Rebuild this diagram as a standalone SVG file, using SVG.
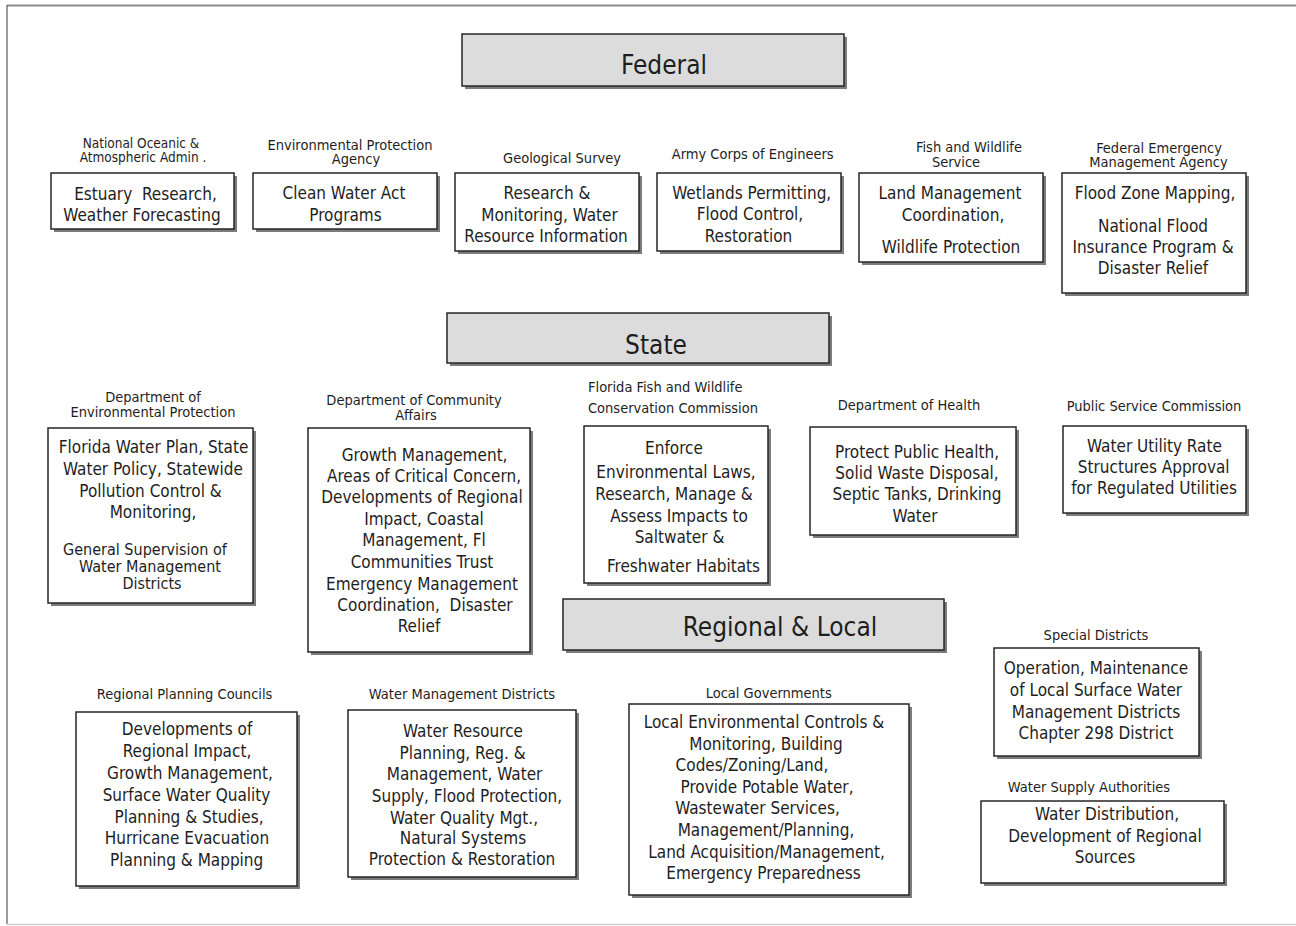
<svg xmlns="http://www.w3.org/2000/svg" width="1296" height="926" viewBox="0 0 1296 926">
<style>
text{font-family:"DejaVu Sans Condensed","DejaVu Sans","Liberation Sans",sans-serif;font-stretch:condensed;fill:#1e1e1e;text-anchor:middle;white-space:pre}
.t{font-size:17px}
.t2{font-size:16px}
.l{font-size:14.5px}
.l2{font-size:13.5px}
.h{font-size:26px}
.sh{fill:#7c7c7c}
.bx{fill:#fff;stroke:#262626;stroke-width:1.5}
.hd{fill:#dcdcdc;stroke:#262626;stroke-width:1.5}
.la{text-anchor:start}
</style>
<rect width="1296" height="926" fill="#fff"/>
<g id="frame" fill="none">
<line x1="7" y1="5.5" x2="1296" y2="5.5" stroke="#8c8c8c" stroke-width="2"/>
<line x1="7" y1="5" x2="7" y2="924" stroke="#7a7a7a" stroke-width="1.5"/>
<line x1="7" y1="924.5" x2="1296" y2="924.5" stroke="#cfcfcf" stroke-width="1.5"/>
</g>
<g id="connectors"></g>

<g id="federal">
<rect class="sh" x="465" y="37" width="382" height="52"/>
<rect class="hd" x="462" y="34" width="382" height="52"/>
<text class="h" x="664" y="74">Federal</text>
</g>
<g id="state">
<rect class="sh" x="450" y="316" width="382" height="50"/>
<rect class="hd" x="447" y="313" width="382" height="50"/>
<text class="h" x="656" y="354">State</text>
</g>
<g id="regional-local">
<rect class="sh" x="566" y="602" width="381" height="51"/>
<rect class="hd" x="563" y="599" width="381" height="51"/>
<text class="h" x="780" y="636">Regional &amp; Local</text>
</g>

<g id="noaa">
<text class="l2" x="141" y="148">National Oceanic &amp;</text>
<text class="l2" x="143" y="162">Atmospheric Admin .</text>
<rect class="sh" x="54" y="176" width="183" height="56"/>
<rect class="bx" x="51" y="173" width="183" height="56"/>
<text class="t" x="145.5" y="200">Estuary  Research,</text>
<text class="t" x="142" y="221">Weather Forecasting</text>
</g>
<g id="epa">
<text class="l" x="350" y="150">Environmental Protection</text>
<text class="l" x="356" y="164">Agency</text>
<rect class="sh" x="256" y="176" width="184" height="56"/>
<rect class="bx" x="253" y="173" width="184" height="56"/>
<text class="t" x="344" y="199">Clean Water Act</text>
<text class="t" x="345.5" y="221">Programs</text>
</g>
<g id="usgs">
<text class="l" x="562" y="163">Geological Survey</text>
<rect class="sh" x="458" y="176" width="184" height="78"/>
<rect class="bx" x="455" y="173" width="184" height="78"/>
<text class="t" x="547" y="199">Research &amp;</text>
<text class="t" x="549.5" y="221">Monitoring, Water</text>
<text class="t" x="546" y="242">Resource Information</text>
</g>
<g id="army-corps">
<text class="l" x="752.7" y="159">Army Corps of Engineers</text>
<rect class="sh" x="660" y="176" width="184" height="78"/>
<rect class="bx" x="657" y="173" width="184" height="78"/>
<text class="t" x="751.7" y="199">Wetlands Permitting,</text>
<text class="t" x="750" y="220">Flood Control,</text>
<text class="t" x="748.5" y="242">Restoration</text>
</g>
<g id="fws">
<text class="l" x="969" y="152">Fish and Wildlife</text>
<text class="l" x="956" y="167">Service</text>
<rect class="sh" x="862" y="176" width="184" height="89"/>
<rect class="bx" x="859" y="173" width="184" height="89"/>
<text class="t" x="950" y="199">Land Management</text>
<text class="t" x="953" y="221">Coordination,</text>
<text class="t" x="951" y="253">Wildlife Protection</text>
</g>
<g id="fema">
<text class="l" x="1159" y="153">Federal Emergency</text>
<text class="l" x="1158.5" y="167">Management Agency</text>
<rect class="sh" x="1065" y="176" width="184" height="120"/>
<rect class="bx" x="1062" y="173" width="184" height="120"/>
<text class="t" x="1155" y="199">Flood Zone Mapping,</text>
<text class="t" x="1153" y="232">National Flood</text>
<text class="t" x="1153" y="253">Insurance Program &amp;</text>
<text class="t" x="1153" y="274">Disaster Relief</text>
</g>

<g id="dep">
<text class="l" x="153" y="402">Department of</text>
<text class="l" x="153" y="417">Environmental Protection</text>
<rect class="sh" x="51" y="431" width="205" height="175"/>
<rect class="bx" x="48" y="428" width="205" height="175"/>
<text class="t" x="153.6" y="453">Florida Water Plan, State</text>
<text class="t" x="153" y="475">Water Policy, Statewide</text>
<text class="t" x="150.5" y="497">Pollution Control &amp;</text>
<text class="t" x="153" y="518">Monitoring,</text>
<text class="t2" x="145" y="555">General Supervision of</text>
<text class="t2" x="150" y="572">Water Management</text>
<text class="t2" x="152" y="589">Districts</text>
</g>
<g id="dca">
<text class="l" x="414" y="405">Department of Community</text>
<text class="l" x="416" y="420">Affairs</text>
<rect class="sh" x="311" y="431" width="222" height="224"/>
<rect class="bx" x="308" y="428" width="222" height="224"/>
<text class="t" x="424.6" y="461">Growth Management,</text>
<text class="t" x="424" y="482">Areas of Critical Concern,</text>
<text class="t" x="422" y="503">Developments of Regional</text>
<text class="t" x="424" y="525">Impact, Coastal</text>
<text class="t" x="424" y="546">Management, Fl</text>
<text class="t" x="422" y="568">Communities Trust</text>
<text class="t" x="422" y="590">Emergency Management</text>
<text class="t" x="425" y="611">Coordination,  Disaster</text>
<text class="t" x="419" y="632">Relief</text>
</g>
<g id="fwc">
<text class="l la" x="588" y="392">Florida Fish and Wildlife</text>
<text class="l la" x="588" y="413">Conservation Commission</text>
<rect class="sh" x="587" y="429" width="184" height="157"/>
<rect class="bx" x="584" y="426" width="184" height="157"/>
<text class="t" x="674" y="454">Enforce</text>
<text class="t" x="676" y="478">Environmental Laws,</text>
<text class="t" x="674" y="500">Research, Manage &amp;</text>
<text class="t" x="679" y="522">Assess Impacts to</text>
<text class="t" x="679.5" y="543">Saltwater &amp;</text>
<text class="t" x="683.5" y="572">Freshwater Habitats</text>
</g>
<g id="doh">
<text class="l" x="909" y="410">Department of Health</text>
<rect class="sh" x="813" y="430" width="206" height="108"/>
<rect class="bx" x="810" y="427" width="206" height="108"/>
<text class="t" x="917" y="458">Protect Public Health,</text>
<text class="t" x="917" y="479">Solid Waste Disposal,</text>
<text class="t" x="917" y="500">Septic Tanks, Drinking</text>
<text class="t" x="915" y="522">Water</text>
</g>
<g id="psc">
<text class="l" x="1154" y="411">Public Service Commission</text>
<rect class="sh" x="1066" y="429" width="183" height="87"/>
<rect class="bx" x="1063" y="426" width="183" height="87"/>
<text class="t" x="1154.5" y="452">Water Utility Rate</text>
<text class="t" x="1153.7" y="473">Structures Approval</text>
<text class="t" x="1154" y="494">for Regulated Utilities</text>
</g>

<g id="rpc">
<text class="l" x="184.6" y="699">Regional Planning Councils</text>
<rect class="sh" x="79" y="715" width="221" height="174"/>
<rect class="bx" x="76" y="712" width="221" height="174"/>
<text class="t" x="187" y="735">Developments of</text>
<text class="t" x="187" y="757">Regional Impact,</text>
<text class="t" x="190" y="779">Growth Management,</text>
<text class="t" x="186.5" y="801">Surface Water Quality</text>
<text class="t" x="189" y="823">Planning &amp; Studies,</text>
<text class="t" x="187" y="844">Hurricane Evacuation</text>
<text class="t" x="186.7" y="866">Planning &amp; Mapping</text>
</g>
<g id="wmd">
<text class="l" x="462" y="699">Water Management Districts</text>
<rect class="sh" x="351" y="713" width="228" height="167"/>
<rect class="bx" x="348" y="710" width="228" height="167"/>
<text class="t" x="463" y="737">Water Resource</text>
<text class="t" x="462.6" y="759">Planning, Reg. &amp;</text>
<text class="t" x="464.6" y="780">Management, Water</text>
<text class="t" x="467" y="802">Supply, Flood Protection,</text>
<text class="t" x="464" y="824">Water Quality Mgt.,</text>
<text class="t" x="463" y="844">Natural Systems</text>
<text class="t" x="462" y="865">Protection &amp; Restoration</text>
</g>
<g id="local-governments">
<text class="l" x="768.7" y="698">Local Governments</text>
<rect class="sh" x="632" y="707" width="280" height="191"/>
<rect class="bx" x="629" y="704" width="280" height="191"/>
<text class="t" x="764" y="728">Local Environmental Controls &amp;</text>
<text class="t" x="766" y="750">Monitoring, Building</text>
<text class="t" x="752" y="771">Codes/Zoning/Land,</text>
<text class="t" x="767" y="793">Provide Potable Water,</text>
<text class="t" x="757.5" y="814">Wastewater Services,</text>
<text class="t" x="766" y="836">Management/Planning,</text>
<text class="t" x="766.6" y="858">Land Acquisition/Management,</text>
<text class="t" x="763.5" y="879">Emergency Preparedness</text>
</g>
<g id="special-districts">
<text class="l" x="1096" y="640">Special Districts</text>
<rect class="sh" x="997" y="651" width="205" height="108"/>
<rect class="bx" x="994" y="648" width="205" height="108"/>
<text class="t" x="1096" y="674">Operation, Maintenance</text>
<text class="t" x="1096" y="696">of Local Surface Water</text>
<text class="t" x="1096" y="718">Management Districts</text>
<text class="t" x="1096" y="739">Chapter 298 District</text>
</g>
<g id="water-supply-authorities">
<text class="l" x="1089" y="792">Water Supply Authorities</text>
<rect class="sh" x="984" y="804" width="243" height="82"/>
<rect class="bx" x="981" y="801" width="243" height="82"/>
<text class="t" x="1107" y="820">Water Distribution,</text>
<text class="t" x="1105" y="842">Development of Regional</text>
<text class="t" x="1105" y="863">Sources</text>
</g>
</svg>
